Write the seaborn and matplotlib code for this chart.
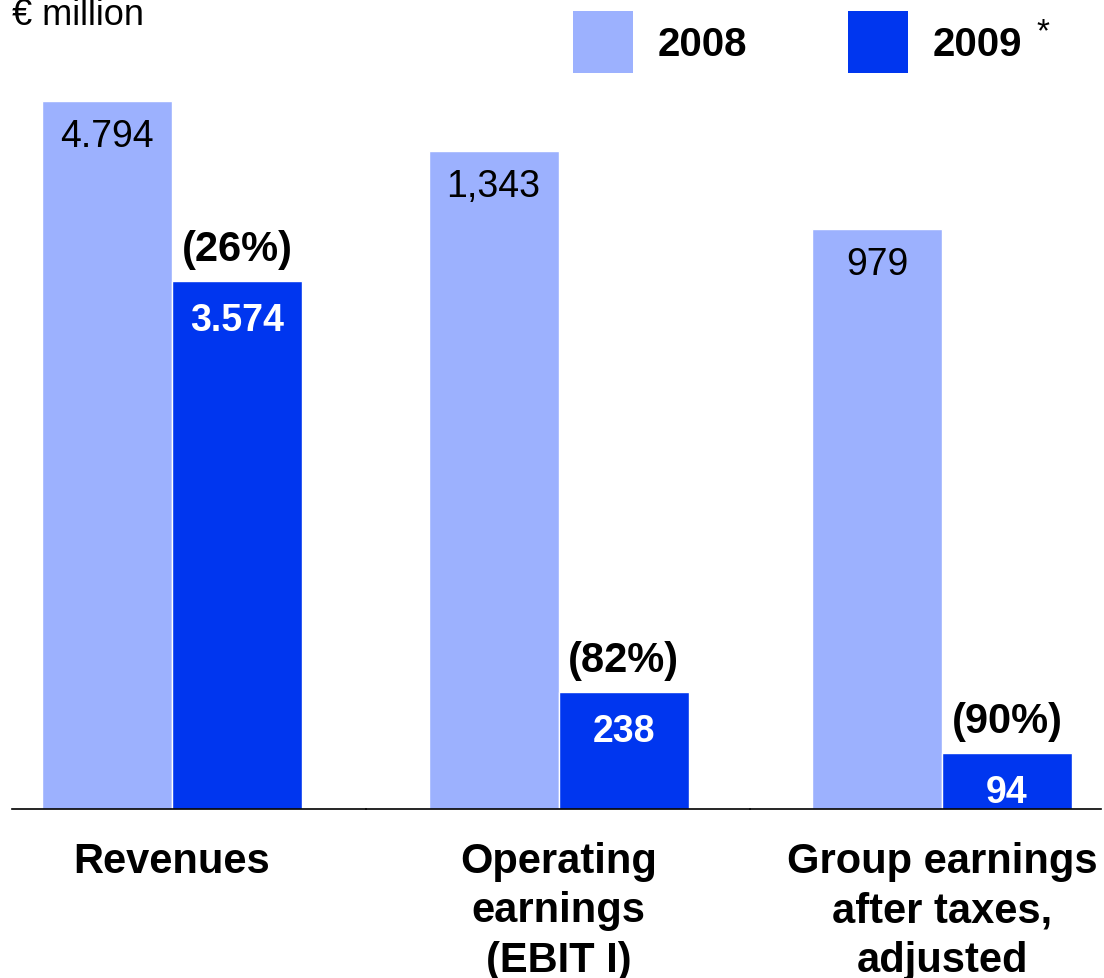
import matplotlib
matplotlib.use("Agg")
import matplotlib.pyplot as plt
import seaborn as sns
import pandas as pd
from matplotlib.patches import Patch

# ---- data ----
metrics = ["Revenues", "Operating\nearnings\n(EBIT I)", "Group earnings\nafter taxes,\nadjusted"]
years = ["2008", "2009"]
values_2008 = [4794, 1343, 979]
values_2009 = [3574, 238, 94]
labels_2008 = ["4.794", "1,343", "979"]
labels_2009 = ["3.574", "238", "94"]
changes = ["(26%)", "(82%)", "(90%)"]
panel_ymax = [5488, 1653, 1368]  # each group drawn on its own scale

LIGHT = "#9CB1FE"
DARK = "#0036EF"
palette = {"2008": LIGHT, "2009": DARK}

sns.set_theme(style="white")
plt.rcParams["font.family"] = ["Liberation Sans", "DejaVu Sans"]
plt.rcParams["text.color"] = "black"

W, H = 1104, 979
fig = plt.figure(figsize=(W / 100, H / 100), dpi=100)

panel_px = [(12, 366), (366, 750), (750, 1101)]
centers_px = [172, 558.5, 942]
unit_px = 325
base_px = 810

for i in range(3):
    left, right = panel_px[i]
    c = centers_px[i]
    ax = fig.add_axes([left / W, (H - base_px) / H, (right - left) / W, base_px / H])
    df = pd.DataFrame({
        "metric": [metrics[i], metrics[i]],
        "year": years,
        "value": [values_2008[i], values_2009[i]],
    })
    sns.barplot(data=df, x="metric", y="value", hue="year", palette=palette,
                saturation=1, width=0.8, edgecolor="white", linewidth=1.0,
                errorbar=None, legend=False, ax=ax)
    ax.set_xlim((left - c) / unit_px, (right - c) / unit_px)
    ax.set_ylim(0, panel_ymax[i])
    for s in ["top", "left", "right"]:
        ax.spines[s].set_visible(False)
    ax.spines["bottom"].set_color("black")
    ax.spines["bottom"].set_linewidth(1.2)
    ax.set_yticks([])
    ax.set_ylabel("")
    ax.set_xlabel("")
    ax.set_xticks([0])
    ax.set_xticklabels([metrics[i]], fontsize=30, fontweight="bold",
                       linespacing=1.3, color="black")
    ax.tick_params(axis="x", length=0, pad=23)
    ax.patch.set_alpha(0)

    bar_light = ax.containers[0][0]
    bar_dark = ax.containers[1][0]
    xl = bar_light.get_x() + bar_light.get_width() / 2
    xd = bar_dark.get_x() + bar_dark.get_width() / 2
    ax.annotate(labels_2008[i], (xl, values_2008[i]), xytext=(0, -12),
                textcoords="offset points", ha="center", va="top",
                fontsize=27, color="black")
    ax.annotate(labels_2009[i], (xd, values_2009[i]), xytext=(0, -15),
                textcoords="offset points", ha="center", va="top",
                fontsize=27, fontweight="bold", color="white")
    ax.annotate(changes[i], (xd, values_2009[i]), xytext=(0, 9),
                textcoords="offset points", ha="center", va="bottom",
                fontsize=30, fontweight="bold", color="black")

# legend
handles = [Patch(facecolor=palette[y], edgecolor="none") for y in years]
fig.legend(handles=handles, labels=years, loc="upper left",
           bbox_to_anchor=(573 / W, 1 - 12 / H), frameon=False, ncol=2,
           prop={"weight": "bold", "size": 29}, labelcolor="black",
           handlelength=1.5, handleheight=2.0, handletextpad=0.6,
           columnspacing=2.5, borderpad=0, borderaxespad=0)
fig.text(1036 / W, 1 - 17 / H, "*", ha="left", va="top", fontsize=24, color="black")

fig.text(12 / W, 1 - 25 / H, "€ million", ha="left", va="baseline",
         fontsize=26, color="black")

fig.savefig("out.png", dpi=100)
